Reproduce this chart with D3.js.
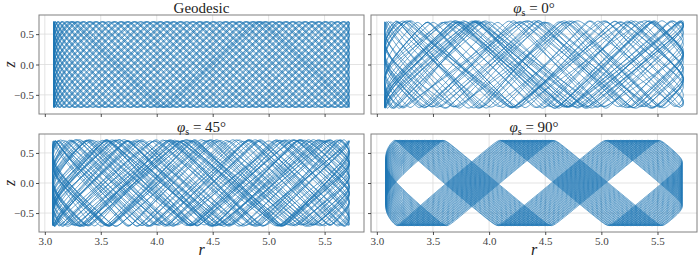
<!DOCTYPE html>
<html>
  <head>
    <meta charset="utf-8">
    <style>
    body { margin: 0; border: 0; overflow: hidden; background: #fff; }
    text { font-family: "Liberation Serif", "DejaVu Serif", serif; fill: #333; }
    .tick-label { font-size: 11px; fill: #444; }
    .title { font-size: 15px; fill: #222; }
    .axis-label { font-size: 16px; font-style: italic; fill: #222; }
    </style>
  </head>
  <body>
    <script src="https://cdnjs.cloudflare.com/ajax/libs/d3/7.8.5/d3.min.js"></script>
    <script>
var width = 698, height = 261;

// panel titles (angle of phi_s, or the geodesic case)
var titles = ["Geodesic", "0", "45", "90"];
var xTicks = [3.0, 3.5, 4.0, 4.5, 5.0, 5.5];
var yTicks = [-0.5, 0.0, 0.5];
var xDomain = [2.948, 5.852];
var yDomain = [-0.815, 0.815];

// orbit parameters
var rMin       = [3.08, 3.07, 3.07, 3.08];
var rMax       = [5.72, 5.73, 5.72, 5.72];
var zMax       = [0.705, 0.72, 0.72, 0.71];
var freqRatio  = [3.4142, 3.33, 3.37, 3.0058];
var startPhase = [0.4, 0.4, 0.4, -0.8];
var rCycles    = [42, 32, 44, 44];
var freqJitter = [0, 0.27, 0.2, 0];
var ampWobble  = [0, 0.04, 0.035, 0.01];
var leftSoft   = [0.07, 0.06, 0.06, 0.06];

// panel boxes: left, top, right, bottom
var boxes = [[39, 15, 364, 114], [371, 15, 697, 114], [39, 134, 364, 232], [371, 134, 697, 232]];

var svg = d3.select("body").append("svg")
  .attr("width", width)
  .attr("height", height);

function softTri(th, k) { return Math.asin(k * Math.sin(th)) / Math.asin(k); }

function orbit(i) {
  var perCycle = 500, n = rCycles[i] * perCycle, dt = 2 * Math.PI / perCycle;
  var e = leftSoft[i], hn = Math.sqrt(1 + e * e) - e;
  var pts = [], phi = startPhase[i];
  for (var k = 0; k <= n; k++) {
    var t = k * dt;
    var u = (softTri(t - Math.PI / 2, 0.998) + 1) / 2;
    var r = rMin[i] + (rMax[i] - rMin[i]) * (Math.sqrt(u * u + e * e) - e) / hn;
    var eta = freqJitter[i] * (0.5 * Math.sin(0.0937 * t) + 0.3 * Math.sin(0.2331 * t + 1.1) + 0.2 * Math.sin(0.613 * t + 2.0));
    phi += freqRatio[i] * (1 + eta) * dt;
    var A = zMax[i] * (1 - ampWobble[i] * (1 + Math.sin(1.3 * t + 0.37 * phi)) / 2);
    pts.push([r, A * softTri(phi, 0.996)]);
  }
  return pts;
}

boxes.forEach(function(b, i) {
  var x = d3.scaleLinear().domain(xDomain).range([b[0], b[2]]);
  var y = d3.scaleLinear().domain(yDomain).range([b[3], b[1]]);
  var g = svg.append("g");

  // grid
  g.selectAll("line.gx").data(xTicks).enter().append("line")
    .attr("x1", function(d) { return x(d); }).attr("x2", function(d) { return x(d); })
    .attr("y1", b[1]).attr("y2", b[3])
    .attr("stroke", "#dcdcdc").attr("stroke-width", 0.8);
  g.selectAll("line.gy").data(yTicks).enter().append("line")
    .attr("y1", function(d) { return y(d); }).attr("y2", function(d) { return y(d); })
    .attr("x1", b[0]).attr("x2", b[2])
    .attr("stroke", "#dcdcdc").attr("stroke-width", 0.8);

  // trajectory
  var line = d3.line().x(function(d) { return x(d[0]); }).y(function(d) { return y(d[1]); });
  g.append("path")
    .attr("d", line(orbit(i)))
    .attr("fill", "none")
    .attr("stroke", "#1f77b4")
    .attr("stroke-width", 0.7);

  // frame
  g.append("rect")
    .attr("x", b[0]).attr("y", b[1])
    .attr("width", b[2] - b[0]).attr("height", b[3] - b[1])
    .attr("fill", "none").attr("stroke", "#808080").attr("stroke-width", 1);

  // axes
  var xa = d3.axisBottom(x).tickValues(xTicks).tickSize(3).tickPadding(2)
    .tickFormat(i >= 2 ? d3.format(".1f") : function() { return ""; });
  var ya = d3.axisLeft(y).tickValues(yTicks).tickSize(3).tickPadding(2)
    .tickFormat(i % 2 == 0 ? function(d) { return d3.format(".1f")(d).replace("-", "\u2212"); } : function() { return ""; });
  var gx = g.append("g").attr("transform", "translate(0," + b[3] + ")").call(xa);
  var gy = g.append("g").attr("transform", "translate(" + b[0] + ",0)").call(ya);
  [gx, gy].forEach(function(ax) {
    ax.select(".domain").remove();
    ax.selectAll("line").attr("stroke", "#222").attr("stroke-width", 0.8);
    ax.selectAll("text").attr("class", "tick-label").attr("font-family", null).attr("font-size", null).attr("fill", null);
  });

  // title
  var t = g.append("text").attr("class", "title")
    .attr("x", (b[0] + b[2]) / 2).attr("y", b[1] - 2)
    .attr("text-anchor", "middle");
  if (i == 0) {
    t.text(titles[i]);
  } else {
    t.append("tspan").attr("font-style", "italic").text("\u03c6");
    t.append("tspan").attr("font-size", "10px").attr("dy", 3).text("s");
    t.append("tspan").attr("dy", -3).text(" = " + titles[i] + "\u00b0");
  }

  if (i % 2 == 0) {
    g.append("text").attr("class", "axis-label")
      .attr("transform", "translate(15," + ((b[1] + b[3]) / 2) + ") rotate(-90)")
      .attr("text-anchor", "middle").text("z");
  }
  if (i >= 2) {
    g.append("text").attr("class", "axis-label")
      .attr("x", (b[0] + b[2]) / 2).attr("y", 255)
      .attr("text-anchor", "middle").text("r");
  }
});
    </script>
  </body>
</html>
